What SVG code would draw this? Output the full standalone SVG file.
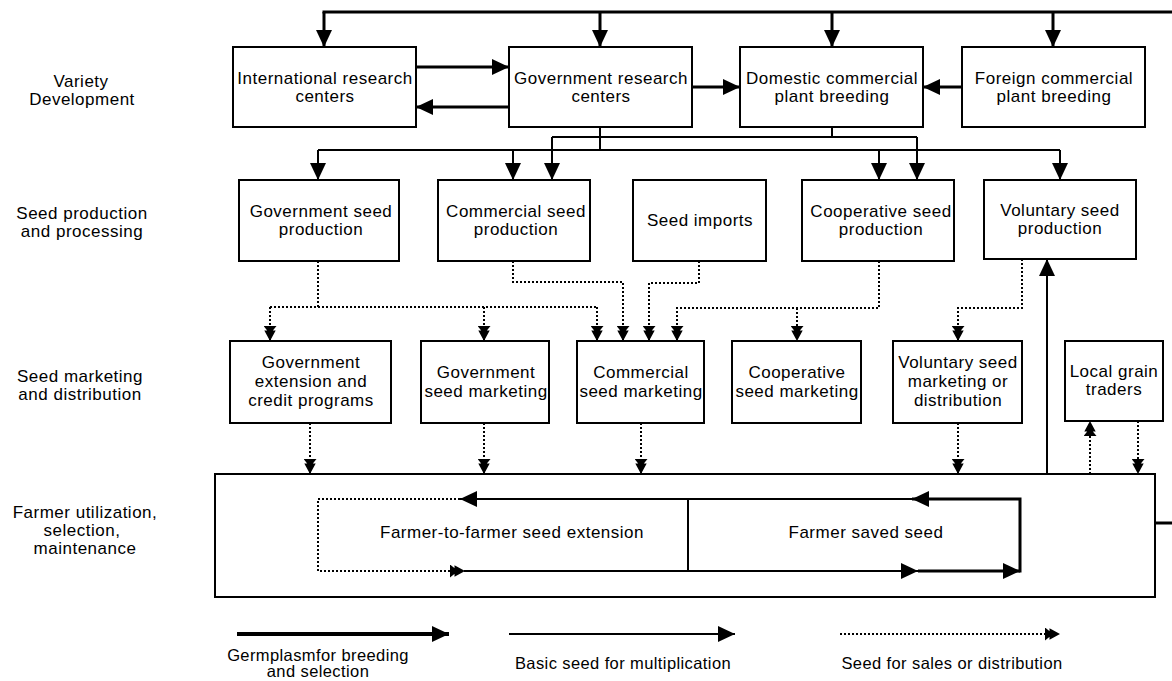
<svg xmlns="http://www.w3.org/2000/svg" width="1172" height="681" viewBox="0 0 1172 681">
<style>
.box{fill:#fff;stroke:#000;stroke-width:2}
.t{font-family:"Liberation Sans",Arial,sans-serif;font-size:17px;letter-spacing:0.5px;text-anchor:middle;fill:#000}
.lg{font-size:16.5px;letter-spacing:0.4px}
.germ{fill:none;stroke:#000;stroke-width:3}
.basic{fill:none;stroke:#000;stroke-width:2}
.dot{fill:none;stroke:#000;stroke-width:2;stroke-dasharray:2 2}
.ah{marker-end:url(#arr)}
.dh{marker-end:url(#darr)}
</style>
<defs>
<marker id="arr" viewBox="0 0 17 16" refX="17" refY="8" markerWidth="17" markerHeight="16" markerUnits="userSpaceOnUse" orient="auto">
<path d="M0,0 L17,8 L0,16 z" fill="#000"/>
</marker>
<marker id="darr" viewBox="0 0 15 13" refX="15" refY="6.5" markerWidth="15" markerHeight="13" markerUnits="userSpaceOnUse" orient="auto">
<path d="M0,0 L0,13 L8,6.5 z M4.5,0.8 L4.5,12.2 L15,6.5 z" fill="#000"/>
</marker>
</defs>
<rect width="1172" height="681" fill="#fff"/>

<g id="stage-labels">
<text class="t" x="81" y="87">Variety</text>
<text class="t" x="82" y="105">Development</text>
<text class="t" x="82" y="219">Seed production</text>
<text class="t" x="82" y="237">and processing</text>
<text class="t" x="80" y="382">Seed marketing</text>
<text class="t" x="80" y="400">and distribution</text>
<text class="t" x="85" y="518">Farmer utilization,</text>
<text class="t" x="82" y="536">selection,</text>
<text class="t" x="85" y="554">maintenance</text>
</g>

<g id="farmer-box">
<rect class="box" x="215" y="474" width="940" height="123"/>
<text class="t" x="512" y="538">Farmer-to-farmer seed extension</text>
<text class="t" x="866" y="538">Farmer saved seed</text>
</g>

<g id="international-research">
<rect class="box" x="233" y="47" width="183" height="80"/>
<text class="t" x="325" y="84">International research</text>
<text class="t" x="325" y="102">centers</text>
</g>
<g id="government-research">
<rect class="box" x="509" y="47" width="183" height="80"/>
<text class="t" x="601" y="84">Government research</text>
<text class="t" x="601" y="102">centers</text>
</g>
<g id="domestic-breeding">
<rect class="box" x="740" y="47" width="183" height="80"/>
<text class="t" x="832" y="84">Domestic commercial</text>
<text class="t" x="832" y="102">plant breeding</text>
</g>
<g id="foreign-breeding">
<rect class="box" x="962" y="47" width="183" height="80"/>
<text class="t" x="1054" y="84">Foreign commercial</text>
<text class="t" x="1054" y="102">plant breeding</text>
</g>

<g id="government-seed-production">
<rect class="box" x="239" y="180" width="160" height="81"/>
<text class="t" x="321" y="217">Government seed</text>
<text class="t" x="321" y="235">production</text>
</g>
<g id="commercial-seed-production">
<rect class="box" x="438" y="180" width="152" height="81"/>
<text class="t" x="516" y="217">Commercial seed</text>
<text class="t" x="516" y="235">production</text>
</g>
<g id="seed-imports">
<rect class="box" x="633" y="180" width="133" height="81"/>
<text class="t" x="700" y="226">Seed imports</text>
</g>
<g id="cooperative-seed-production">
<rect class="box" x="802" y="180" width="152" height="81"/>
<text class="t" x="881" y="217">Cooperative seed</text>
<text class="t" x="881" y="235">production</text>
</g>
<g id="voluntary-seed-production">
<rect class="box" x="984" y="180" width="152" height="79"/>
<text class="t" x="1060" y="216">Voluntary seed</text>
<text class="t" x="1060" y="234">production</text>
</g>

<g id="government-extension">
<rect class="box" x="230" y="341" width="161" height="82"/>
<text class="t" x="311" y="368">Government</text>
<text class="t" x="311" y="387">extension and</text>
<text class="t" x="311" y="406">credit programs</text>
</g>
<g id="government-seed-marketing">
<rect class="box" x="421" y="341" width="128" height="82"/>
<text class="t" x="486" y="378">Government</text>
<text class="t" x="486" y="397">seed marketing</text>
</g>
<g id="commercial-seed-marketing">
<rect class="box" x="577" y="341" width="127" height="82"/>
<text class="t" x="641" y="378">Commercial</text>
<text class="t" x="641" y="397">seed marketing</text>
</g>
<g id="cooperative-seed-marketing">
<rect class="box" x="732" y="341" width="129" height="82"/>
<text class="t" x="797" y="378">Cooperative</text>
<text class="t" x="797" y="397">seed marketing</text>
</g>
<g id="voluntary-seed-marketing">
<rect class="box" x="893" y="341" width="129" height="82"/>
<text class="t" x="958" y="368">Voluntary seed</text>
<text class="t" x="958" y="387">marketing or</text>
<text class="t" x="958" y="406">distribution</text>
</g>
<g id="local-grain-traders">
<rect class="box" x="1065" y="341" width="98" height="80"/>
<text class="t" x="1114" y="377">Local grain</text>
<text class="t" x="1114" y="395">traders</text>
</g>

<g id="connectors">
<path class="germ" d="M322.5,12 H1172"/>
<path class="germ ah" d="M324,12 V47"/>
<path class="germ ah" d="M600,12 V47"/>
<path class="germ ah" d="M832,12 V47"/>
<path class="germ ah" d="M1053,12 V47"/>
<path class="germ ah" d="M416,67 H509"/>
<path class="germ ah" d="M509,107 H416"/>
<path class="germ ah" d="M692,87 H740"/>
<path class="germ ah" d="M962,87 H923"/>
<path class="germ" d="M1155,523 H1172"/>
<path class="germ ah" d="M918,571 H1020"/>
<path class="germ ah" d="M1020,572.5 V499 H912"/>
<path class="basic" d="M600,127 V150 M318,150 H1060"/>
<path class="basic ah" d="M318,150 V180"/>
<path class="basic ah" d="M513,150 V180"/>
<path class="basic ah" d="M879,150 V180"/>
<path class="basic ah" d="M1060,150 V180"/>
<path class="basic" d="M832,127 V137 M552,137 H917"/>
<path class="basic ah" d="M552,137 V180"/>
<path class="basic ah" d="M917,137 V180"/>
<path class="basic ah" d="M1047,474 V259"/>
<path class="basic ah" d="M914,499 H460"/>
<path class="basic" d="M688,499 V571"/>
<path class="basic ah" d="M465,571 H918"/>
<path class="dot" d="M318,261 V307 M270,307 H597"/>
<path class="dot dh" d="M270,307 V341"/>
<path class="dot dh" d="M484,307 V341"/>
<path class="dot dh" d="M597,307 V341"/>
<path class="dot dh" d="M513,261 V282 H623 V341"/>
<path class="dot dh" d="M699,261 V283 H649 V341"/>
<path class="dot dh" d="M879,261 V308 H677 V341"/>
<path class="dot dh" d="M797,308 V341"/>
<path class="dot dh" d="M1022,259 V308 H958 V341"/>
<path class="dot dh" d="M310,423 V474"/>
<path class="dot dh" d="M484,423 V474"/>
<path class="dot dh" d="M641,423 V474"/>
<path class="dot dh" d="M958,423 V474"/>
<path class="dot dh" d="M1090,474 V421"/>
<path class="dot dh" d="M1138,421 V474"/>
<path class="dot dh" d="M460,499 H318 V571 H465"/>
</g>

<g id="legend">
<path class="germ ah" d="M237,634 H449" style="stroke-width:4"/>
<path class="basic ah" d="M509,634 H735"/>
<path class="dot dh" d="M840,634 H1060"/>
<text class="t lg" x="318" y="661">Germplasmfor breeding</text>
<text class="t lg" x="318" y="677">and selection</text>
<text class="t lg" x="623" y="669">Basic seed for multiplication</text>
<text class="t lg" x="952" y="669">Seed for sales or distribution</text>
</g>
</svg>
